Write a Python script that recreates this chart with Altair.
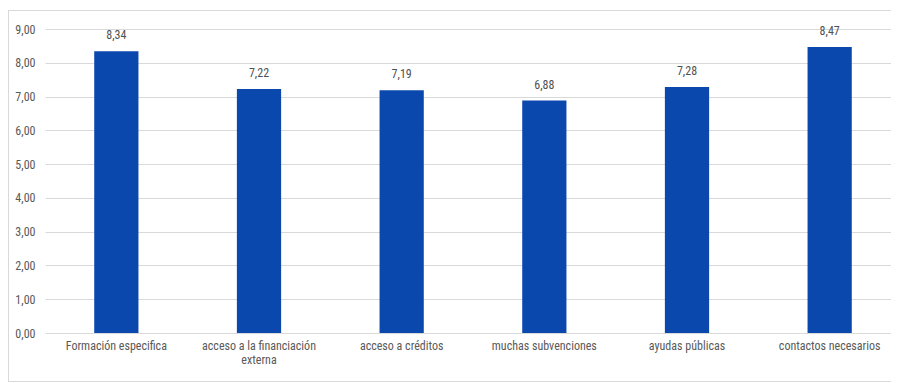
import altair as alt
import pandas as pd

categories = ["Formación especifica", "acceso a la financiación externa", "acceso a créditos",
              "muchas subvenciones", "ayudas públicas", "contactos necesarios"]
values = [8.34, 7.22, 7.19, 6.88, 7.28, 8.47]
y_ticks = [0, 1, 2, 3, 4, 5, 6, 7, 8, 9]

df = pd.DataFrame({"cat": categories, "value": values})

FONT = "Liberation Sans Narrow, Roboto Condensed, Roboto, Arial, sans-serif"
GRAY = "#595959"

x = alt.X("cat:N", sort=categories, title=None,
          scale=alt.Scale(paddingInner=0.69, paddingOuter=0.345, range=[0, 856]),
          axis=alt.Axis(labelAngle=0, labelColor=GRAY, labelFontSize=12, labelFont=FONT,
                        labelPadding=7, ticks=False, domain=False, labelLimit=200,
                        labelExpr="datum.label == 'acceso a la financiación externa' ? ['acceso a la financiación', 'externa'] : datum.label"))
y = alt.Y("value:Q", title=None,
          scale=alt.Scale(domain=[0, 9], nice=False),
          axis=alt.Axis(values=y_ticks, labelColor=GRAY, labelFontSize=12, labelOverlap=False,
                        labelFont=FONT, labelPadding=10, ticks=False, domain=False,
                        gridColor="#d9d9d9", gridWidth=1,
                        labelExpr="replace(format(datum.value, '.2f'), '.', ',')"))

base = alt.Chart(df).encode(x=x, y=y)
bars = base.mark_bar(color="#0b48ad")
texts = base.mark_text(baseline="bottom", dy=-9, fontSize=12, font=FONT, fontWeight="normal",
                       color="#505050").encode(
    text="lbl:N"
).transform_calculate(lbl="replace(format(datum.value, '.2f'), '.', ',')")

border = alt.Chart(df).mark_rect(fill=None, stroke="#d9d9d9", strokeWidth=1).encode(
    x=alt.value(-36.5), x2=alt.value(900), y=alt.value(-18.5), y2=alt.value(352.5)
)

chart = alt.layer(border, bars, texts).properties(
    width=846, height=304,
    padding={"left": 37, "top": 21, "right": 0, "bottom": 50},
    autosize=alt.AutoSizeParams(type="none"),
    background="white",
).configure_view(stroke=None)

chart.save("out.html", embed_options={"renderer": "svg", "actions": False})
